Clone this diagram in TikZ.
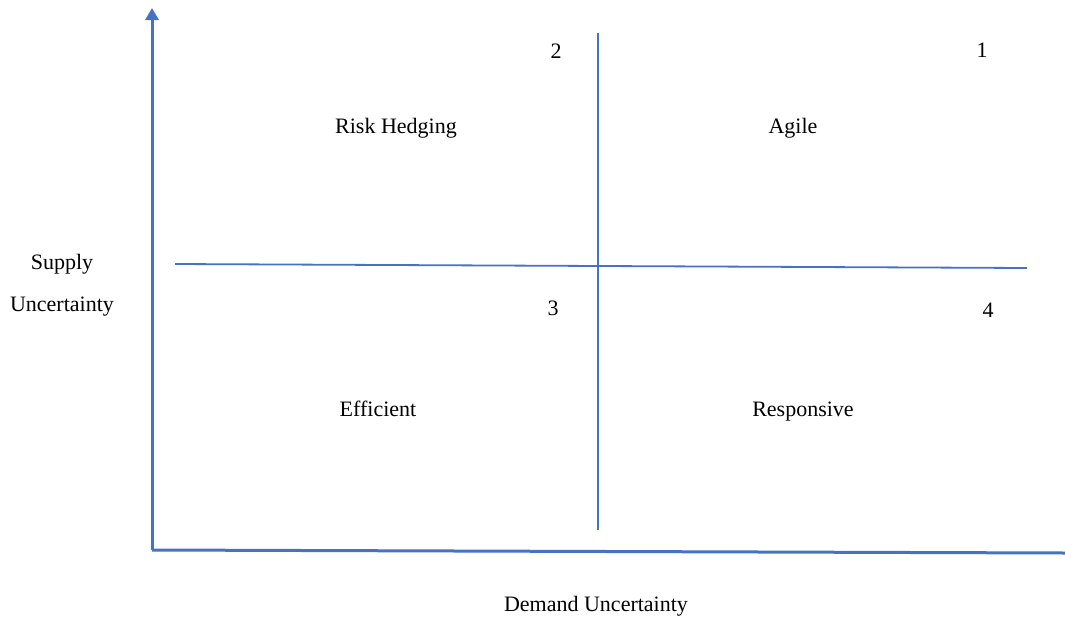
\documentclass[tikz,border=0pt]{standalone}
\usepackage{fontspec}
\setmainfont{Liberation Serif}
\usetikzlibrary{arrows.meta}
\definecolor{axisblue}{HTML}{4472C4}
\begin{document}
\begin{tikzpicture}[x=1pt,y=-1pt,
  axis/.style={draw=axisblue,line width=3pt},
  divider/.style={draw=axisblue,line width=1.8pt},
  lbl/.style={font=\fontsize{22}{26}\selectfont,inner sep=0pt,anchor=center,text height=15pt,text depth=5pt}]
\useasboundingbox (0,0) rectangle (1065,616);
% axes
\coordinate (origin) at (152,550);
\coordinate (ytop) at (152,8);
\coordinate (xend) at (1065,553);
\draw[axis,-{Triangle[width=13pt,length=12pt]}] (origin) -- (ytop);
\draw[axis] (origin) -- (xend);
% dividers
\coordinate (vtop) at (598,33);
\coordinate (vbot) at (598,530);
\coordinate (hleft) at (175,264);
\coordinate (hright) at (1027,268);
\draw[divider] (vtop) -- (vbot);
\draw[divider] (hleft) -- (hright);
% labels
\node[lbl] (n2) at (556,53) {2};
\node[lbl] (n1) at (982,52) {1};
\node[lbl] (rh) at (396,128) {Risk Hedging};
\node[lbl] (ag) at (793,128) {Agile};
\node[lbl] (n3) at (553,310) {3};
\node[lbl] (n4) at (988,312) {4};
\node[lbl] (ef) at (378,411) {Efficient};
\node[lbl] (re) at (803,411) {Responsive};
\node[lbl] (sup) at (62,264) {Supply};
\node[lbl] (unc) at (62,306) {Uncertainty};
\node[lbl] (dem) at (596,606) {Demand Uncertainty};
\end{tikzpicture}
\end{document}
